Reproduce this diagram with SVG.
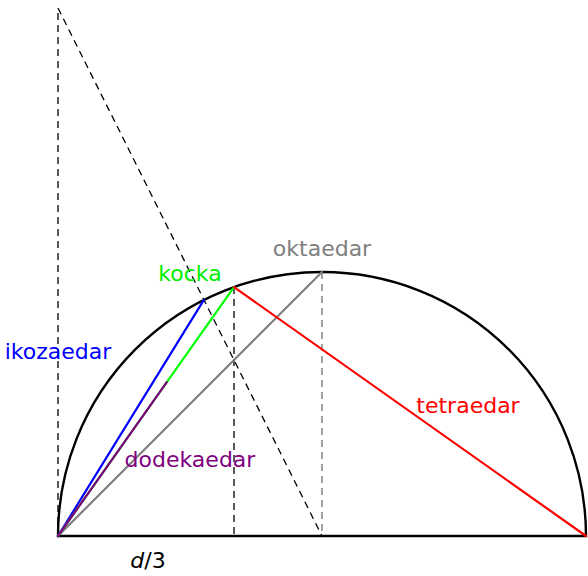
<svg xmlns="http://www.w3.org/2000/svg" width="588" height="576" viewBox="0 0 588 576">
<style>
text{font-family:"DejaVu Sans","Liberation Sans",sans-serif;font-size:22px;text-anchor:middle}
.dash{fill:none;stroke-width:1.3;stroke-dasharray:7 5}
.ln{fill:none;stroke-width:2.2;stroke-linecap:round}
</style>
<rect width="588" height="576" fill="#fff"/>
<g id="construction">
<line class="dash" x1="58" y1="536" x2="58" y2="8" stroke="#000"/>
<line class="dash" x1="58" y1="8" x2="322" y2="536" stroke="#000"/>
<line class="dash" x1="234" y1="287.1" x2="234" y2="536" stroke="#000"/>
<line class="dash" x1="322" y1="272" x2="322" y2="536" stroke="#707070"/>
</g>
<g id="semicircle">
<path d="M58 536 A264 264 0 0 1 586 536 Z" fill="none" stroke="#000" stroke-width="2.4"/>
</g>
<g id="edges">
<line class="ln" x1="58" y1="536" x2="322" y2="272" stroke="#808080" stroke-width="1.8"/>
<line class="ln" x1="58" y1="536" x2="203.9" y2="299.9" stroke="#0000ff"/>
<line class="ln" x1="58" y1="536" x2="234" y2="287.1" stroke="#00ff00"/>
<line class="ln" x1="58" y1="536" x2="166.8" y2="382.2" stroke="#800080"/>
<line class="ln" x1="234" y1="287.1" x2="586" y2="536" stroke="#ff0000"/>
</g>
<g id="labels">
<text x="322" y="256" fill="#808080">oktaedar</text>
<text x="190" y="281" fill="#00ee00">kocka</text>
<text x="58" y="359" fill="#0000ff">ikozaedar</text>
<text x="190" y="467" fill="#800080">dodekaedar</text>
<text x="468" y="413" fill="#ff0000">tetraedar</text>
<text x="148" y="568" fill="#000" font-size="25"><tspan font-style="italic">d</tspan>/3</text>
</g>
</svg>
